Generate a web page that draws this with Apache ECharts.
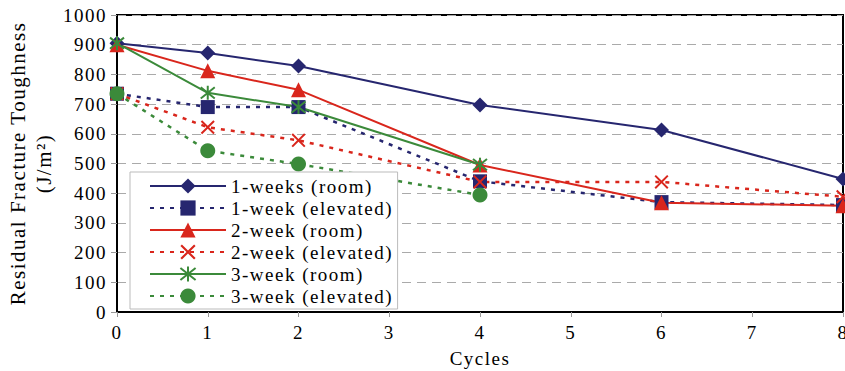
<!DOCTYPE html>
<html><head><meta charset="utf-8">
<script src="https://cdn.jsdelivr.net/npm/echarts@6/dist/echarts.min.js"></script>
<style>html,body{margin:0;padding:0;background:#fff}#c{width:845px;height:371px}#c text{letter-spacing:1.5px;font-family:'Liberation Serif',serif !important}</style>
</head><body><div id="c"></div>
<script>
const seriesNames = ['1-weeks (room)','1-week (elevated)','2-week (room)','2-week (elevated)','3-week (room)','3-week (elevated)'];
const cyclesLong = [0,1,2,4,6,8];
const cyclesShort = [0,1,2,4];
const w1Room = [905,872,828,697,613,448];
const w1Elev = [735,690,690,440,370,360];
const w2Room = [900,812,748,495,368,358];
const w2Elev = [735,622,578,438,438,388];
const w3Room = [905,738,690,496];
const w3Elev = [735,543,498,394];
const yTicks = [0,100,200,300,400,500,600,700,800,900,1000];

const navy='#26266f', red='#d9261c', green='#3b8a3a';
const font="Liberation Serif";
const xMark='path://M0,1L1,0L5,4L9,0L10,1L6,5L10,9L9,10L5,6L1,10L0,9L4,5Z';
const star='path://M1,1L9,9M9,1L1,9M5,0L5,10';
function pairs(xs,ys){return xs.map((x,i)=>[x,ys[i]]);}
function mk(name,xs,ys,color,dashed,symbol,size,extra){
  return Object.assign({
    name,type:'line',data:pairs(xs,ys),symbol,symbolSize:size,
    lineStyle:{color,width:dashed?2.5:2,type:dashed?[4,6]:'solid'},
    itemStyle:{color,borderColor:color,borderWidth:0},
    emphasis:{disabled:true},animation:false
  },extra||{});
}
const chart=echarts.init(document.getElementById('c'),null,{renderer:'svg'});
chart.setOption({
  animation:false,
  grid:{left:117,right:2,top:15,bottom:59,outerBoundsMode:'none',containLabel:false,show:true,borderColor:'#000',borderWidth:2,backgroundColor:'transparent'},
  xAxis:{type:'value',min:0,max:8,interval:1,name:'Cycles',nameLocation:'middle',nameGap:37,
    nameTextStyle:{fontFamily:font,fontSize:19,color:'#000'},
    axisLine:{lineStyle:{color:'#000',width:2}},axisTick:{show:true,length:5,lineStyle:{color:'#999'}},
    axisLabel:{fontFamily:font,fontSize:19,color:'#000',margin:11},splitLine:{show:false}},
  yAxis:{type:'value',min:0,max:1000,interval:100,
    name:'Residual Fracture Toughness\n(J/m²)',nameLocation:'middle',nameGap:60,nameRotate:90,
    nameTextStyle:{fontFamily:font,fontSize:21,color:'#000',lineHeight:26,align:'center'},
    axisLine:{lineStyle:{color:'#000',width:2}},axisTick:{show:true,length:6,lineStyle:{color:'#999'}},
    axisLabel:{fontFamily:font,fontSize:19,color:'#000',margin:10,formatter:v=>yTicks.includes(v)?String(v):''},
    splitLine:{show:true,lineStyle:{color:'#aaa',type:[9,6],width:1}}},
  legend:{orient:'vertical',left:130,top:172,padding:[3,30,2,19],itemGap:0,itemWidth:76,itemHeight:19,
    backgroundColor:'#fff',borderColor:'#bbb',borderWidth:1,
    textStyle:{fontFamily:font,fontSize:19,lineHeight:22,color:'#000'},data:seriesNames},
  series:[
    mk(seriesNames[0],cyclesLong,w1Room,navy,false,'diamond',15),
    mk(seriesNames[1],cyclesLong,w1Elev,navy,true,'rect',14),
    mk(seriesNames[2],cyclesLong,w2Room,red,false,'triangle',15),
    mk(seriesNames[3],cyclesLong,w2Elev,red,true,xMark,14),
    mk(seriesNames[4],cyclesShort,w3Room,green,false,star,14,{itemStyle:{color:green,borderColor:green,borderWidth:2}}),
    mk(seriesNames[5],cyclesShort,w3Elev,green,true,'circle',15)
  ]
});
</script></body></html>
